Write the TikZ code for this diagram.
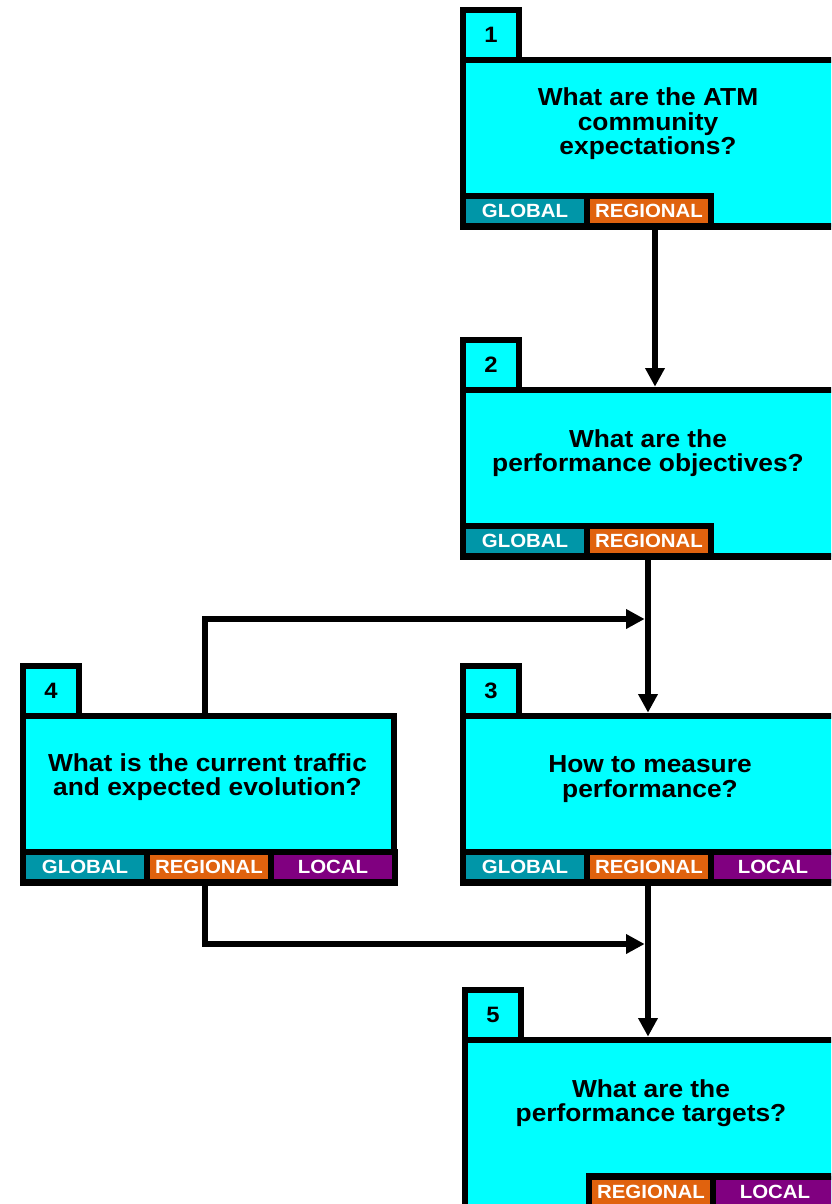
\documentclass[tikz,border=0pt]{standalone}
\usepackage{fontspec}
\setmainfont{Liberation Sans}
\newfontfamily\qfont{Liberation Sans}[FakeStretch=1.07]
\usetikzlibrary{arrows.meta, positioning}

\definecolor{boxcyan}{HTML}{00FFFF}
\definecolor{globalteal}{HTML}{0096A8}
\definecolor{regionalorange}{HTML}{E0620E}
\definecolor{localpurple}{HTML}{800080}

\tikzset{
  body/.style={draw, fill=boxcyan, line width=0.2cm, inner sep=0pt, outer sep=0pt,
    anchor=north west, minimum width=11.6cm, minimum height=5cm},
  tab/.style={draw, fill=boxcyan, line width=0.2cm, inner sep=0pt, outer sep=0pt,
    anchor=south west, minimum width=1.68cm, minimum height=1.5cm,
    font=\qfont\fontsize{19}{19}\selectfont\bfseries},
  qtext/.style={align=center, inner sep=0pt, font=\qfont\fontsize{21}{21}\selectfont\bfseries},
  tag/.style={draw, line width=0.2cm, inner sep=0pt, outer sep=0pt,
    minimum width=3.72cm, minimum height=0.92cm, text=white,
    font=\qfont\fontsize{16.3}{16.3}\selectfont\bfseries},
  arr/.style={line width=0.2cm, -{Triangle[length=0.56cm, width=0.56cm]}},
}

\begin{document}
\begin{tikzpicture}[x=0.03cm, y=-0.03cm]
  \useasboundingbox (0,0) rectangle (831,1204);
  \clip (0,0) rectangle (831,1204);

  % box 1
  \node[body] (b1) at (463,60) {};
  \node[tab] (n1) at (b1.north west) {1};
  \node[qtext] (q1) at (648,124) {What are the ATM\\community\\expectations?};
  \node[tag, fill=globalteal, anchor=south west] (g1) at (b1.south west) {GLOBAL};
  \node[tag, fill=regionalorange, right=0pt of g1] (r1) {REGIONAL};

  % box 2
  \node[body] (b2) at (463,390) {};
  \node[tab] (n2) at (b2.north west) {2};
  \node[qtext] (q2) at (648,453) {What are the\\performance objectives?};
  \node[tag, fill=globalteal, anchor=south west] (g2) at (b2.south west) {GLOBAL};
  \node[tag, fill=regionalorange, right=0pt of g2] (r2) {REGIONAL};

  % box 3
  \node[body] (b3) at (463,716) {};
  \node[tab] (n3) at (b3.north west) {3};
  \node[qtext] (q3) at (650,779) {How to measure\\performance?};
  \node[tag, fill=globalteal, anchor=south west] (g3) at (b3.south west) {GLOBAL};
  \node[tag, fill=regionalorange, right=0pt of g3] (r3) {REGIONAL};
  \node[tag, fill=localpurple, right=0pt of r3] (l3) {LOCAL};

  % box 4
  \node[body, minimum width=11.13cm] (b4) at (23,716) {};
  \node[tab] (n4) at (b4.north west) {4};
  \node[qtext] (q4) at (207.5,777) {What is the current traffic\\and expected evolution?};
  \node[tag, fill=globalteal, anchor=south west] (g4) at (b4.south west) {GLOBAL};
  \node[tag, fill=regionalorange, right=0pt of g4] (r4) {REGIONAL};
  \node[tag, fill=localpurple, right=0pt of r4] (l4) {LOCAL};

  % box 5
  \node[body, minimum height=5.6cm] (b5) at (465,1040) {};
  \node[tab] (n5) at (b5.north west) {5};
  \node[qtext] (q5) at (651,1103) {What are the\\performance targets?};
  \node[tag, fill=regionalorange, anchor=south west] (r5) at (589,1207) {REGIONAL};
  \node[tag, fill=localpurple, right=0pt of r5] (l5) {LOCAL};

  % connectors
  \coordinate (a1) at (655,300);
  \coordinate (j1) at (648,619);
  \coordinate (j2) at (648,944);
  \coordinate (k1) at (205,619);
  \coordinate (k2) at (205,944);
  \draw[arr, shorten >=0.1cm] (b1.south -| a1) -- (b2.north -| a1);
  \draw[arr, shorten >=0.1cm] (b2.south -| j1) -- (b3.north -| j1);
  \draw[arr, shorten >=0.1cm] (b4.north -| k1) -- (k1) -- (j1);
  \draw[arr, shorten >=0.1cm] (b3.south -| j2) -- (b5.north -| j2);
  \draw[arr, shorten >=0.1cm] (b4.south -| k2) -- (k2) -- (j2);
\end{tikzpicture}
\end{document}
